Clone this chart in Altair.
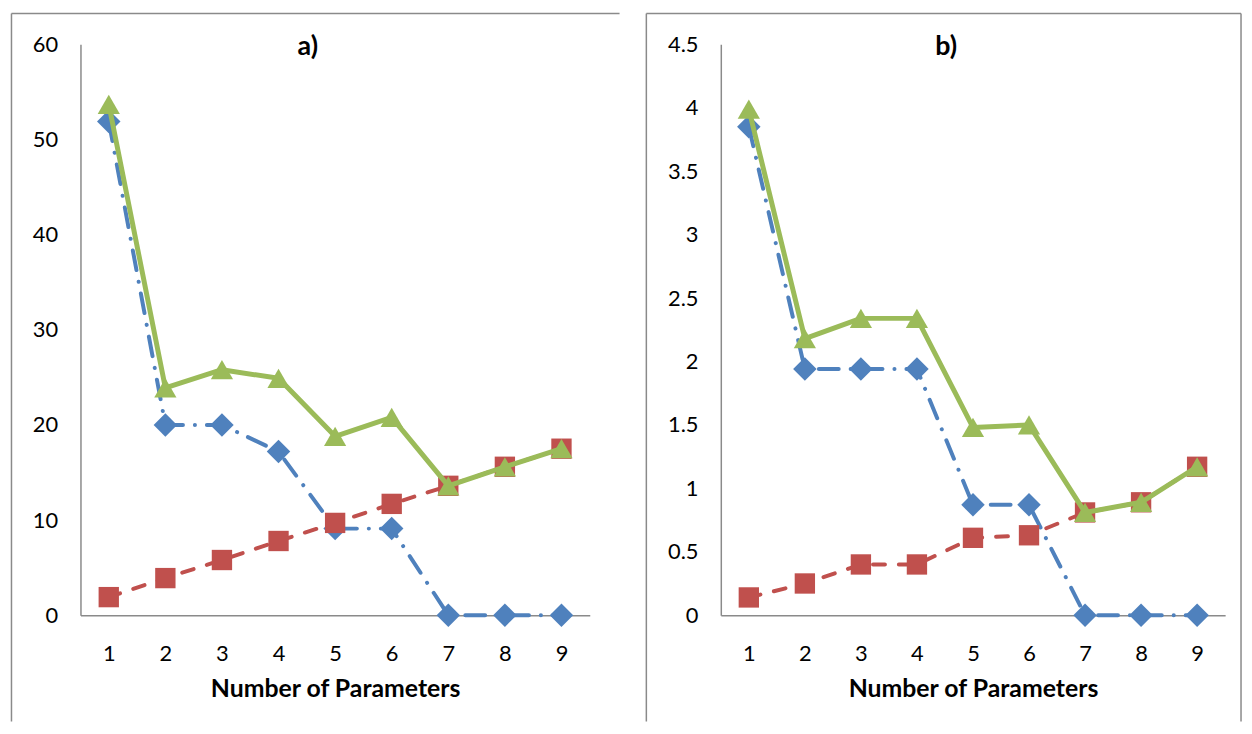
import altair as alt
import pandas as pd

# ---- data ----
n_params = [1, 2, 3, 4, 5, 6, 7, 8, 9]

a_blue = [51.9, 20.0, 20.0, 17.2, 9.1, 9.1, 0.0, 0.0, 0.0]
a_red = [1.9, 3.9, 5.8, 7.8, 9.7, 11.7, 13.6, 15.6, 17.5]
a_green = [53.7, 23.9, 25.8, 24.9, 18.8, 20.8, 13.6, 15.6, 17.5]

b_blue = [3.85, 1.94, 1.94, 1.94, 0.87, 0.87, 0.0, 0.0, 0.0]
b_red = [0.14, 0.25, 0.40, 0.40, 0.61, 0.63, 0.81, 0.89, 1.17]
b_green = [3.99, 2.18, 2.34, 2.34, 1.48, 1.50, 0.81, 0.89, 1.17]

a_ticks = [0, 10, 20, 30, 40, 50, 60]
b_ticks = [0, 0.5, 1, 1.5, 2, 2.5, 3, 3.5, 4, 4.5]

panel_titles = ["a)", "b)"]
x_title = "Number of Parameters"

FONT = "Lato"
BORDER = "#8a8a8a"

styles = {
    "blue": dict(color="#4F81BD", dash=[20, 12, 0.1, 12], shape="diamond", size=560, sw=4),
    "red": dict(color="#C0504D", dash=[12, 14], shape="square", size=420, sw=4),
    "green": dict(color="#9BBB59", dash=None, shape="triangle-up", size=500, sw=5),
}


def panel(title, blue, red, green, ymax, ticks, width, height, box, title_xy):
    df = pd.DataFrame({
        "x": n_params * 3,
        "v": blue + red + green,
        "s": ["blue"] * 9 + ["red"] * 9 + ["green"] * 9,
    })
    xenc = alt.X("x:O", scale=alt.Scale(type="point", padding=0.5),
                 axis=alt.Axis(title=x_title, labelAngle=0))
    yenc = alt.Y("v:Q", scale=alt.Scale(domain=[0, ymax], nice=False, zero=True),
                 axis=alt.Axis(title=None, values=ticks, format="~f"))
    layers = []
    for s in ["blue", "red", "green"]:
        st = styles[s]
        line_kw = dict(color=st["color"], strokeWidth=st["sw"], strokeCap="round", strokeJoin="round")
        if st["dash"]:
            line_kw["strokeDash"] = st["dash"]
        base = alt.Chart(df).transform_filter(alt.datum.s == s)
        layers.append(base.mark_line(**line_kw).encode(x=xenc, y=yenc))
        layers.append(base.mark_point(shape=st["shape"], size=st["size"], filled=True,
                                      opacity=1, color=st["color"]).encode(x=xenc, y=yenc))
    # panel frame edges
    left, right, top, bottom = box
    one = pd.DataFrame({"k": [0]})
    frame = [
        alt.Chart(one).mark_rule(color=BORDER, strokeWidth=1.5).encode(
            x=alt.value(left), y=alt.value(top), y2=alt.value(bottom)),
        alt.Chart(one).mark_rule(color=BORDER, strokeWidth=1.5).encode(
            x=alt.value(left), x2=alt.value(right), y=alt.value(top)),
    ]
    if right < width + 30:
        frame.append(alt.Chart(one).mark_rule(color=BORDER, strokeWidth=1.5).encode(
            x=alt.value(right), y=alt.value(top), y2=alt.value(bottom)))
    ttl = alt.Chart(one).mark_text(font=FONT, fontSize=27, fontWeight="bold", color="black",
                                   align="center", baseline="middle").encode(
        x=alt.value(title_xy[0]), y=alt.value(title_xy[1]), text=alt.value(title))
    return alt.layer(*frame, ttl, *layers).properties(width=width, height=height)


left = panel(panel_titles[0], a_blue, a_red, a_green, 60, a_ticks, 513, 575,
             (-69.5, 543, -31, 682), (229, 3))
right = panel(panel_titles[1], b_blue, b_red, b_green, 4.5, b_ticks, 508, 575,
              (-75, 524, -31, 682), (227, 3))

chart = alt.hconcat(left, right, spacing=25).properties(padding=2).configure_view(
    stroke=None
).configure_axis(
    grid=False, ticks=False, domainColor="#8a8a8a", domainWidth=1.5,
    labelFont=FONT, labelFontSize=22, labelColor="black", labelPadding=23,
    titleFont=FONT, titleFontSize=25, titleFontWeight="bold", titleColor="black",
).configure_axisX(labelPadding=29, titlePadding=12)

chart.save("out.html", embed_options={"renderer": "svg", "actions": False})
